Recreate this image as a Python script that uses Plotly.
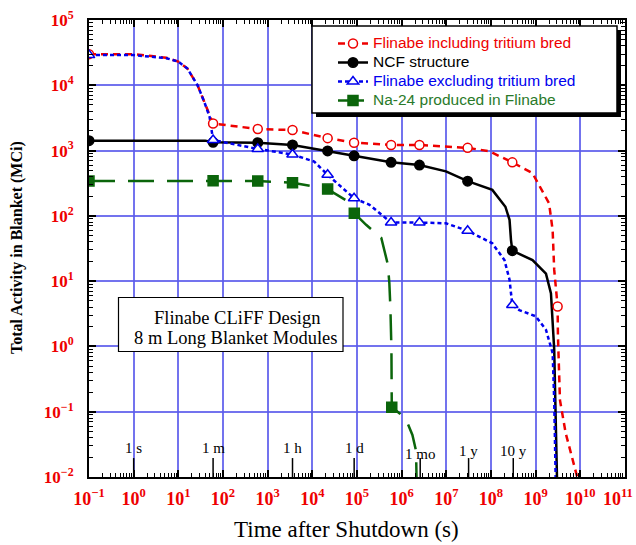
import math
import plotly.graph_objects as go

# ---------------- data ----------------
# Flinabe including tritium bred
red_t = [0.1, 1, 5.4, 10, 16, 27, 38, 50, 60, 600, 3600, 2.2e4, 8.6e4, 5.8e5, 2.5e6,
         3e7, 9e7, 3e8, 8.5e8, 2e9, 2.4e9, 2.6e9, 3.1e9, 3.15e9, 3.3e9, 3.5e9, 4.7e9, 7.3e9, 8.5e9]
red_a = [3e4, 3e4, 2.64e4, 2.3e4, 1.8e4, 1e4, 5600, 3550, 2600, 2140, 2060, 1550, 1320, 1220, 1220,
         1100, 980, 660, 450, 155, 60, 15, 4.1, 1.5, 0.3, 0.15, 0.047, 0.0145, 0.01]
red_mark_t = [0.1, 60, 600, 3600, 2.2e4, 8.6e4, 5.8e5, 2.5e6, 3e7, 3e8, 3.1e9]

# NCF structure
blk_t = [0.1, 40, 60, 600, 3600, 2.2e4, 8.6e4, 5.8e5, 2.5e6, 9.8e6, 3e7, 1.07e8, 2.1e8,
         2.6e8, 2.8e8, 3e8, 8.5e8, 1.7e9, 2.2e9, 2.4e9, 2.6e9, 2.8e9, 3e9]
blk_a = [1420, 1420, 1340, 1320, 1220, 986, 830, 660, 600, 480, 340, 250, 138,
         87, 43, 29.3, 21, 13, 6.5, 2.5, 0.9, 0.085, 0.01]
blk_mark_t = [0.1, 60, 600, 3600, 2.2e4, 8.6e4, 5.8e5, 2.5e6, 3e7, 3e8]

# Flinabe excluding tritium bred
blu_t = [0.1, 1, 5.4, 10, 16, 27, 38, 50, 60, 600, 3600, 1.1e4, 2.2e4, 4e4, 8.6e4, 1.9e5,
         3.7e5, 5.8e5, 2.5e6, 9.8e6, 3e7, 1.07e8, 2e8, 2.6e8, 3e8, 4.3e8, 1e9, 1.7e9, 2.4e9,
         2.6e9, 2.8e9]
blu_a = [2.9e4, 2.9e4, 2.6e4, 2.3e4, 1.8e4, 1e4, 5600, 3300, 1450, 1060, 870, 680, 425, 295, 186, 148,
         103, 79, 79, 77, 59, 38, 21, 10.5, 4.3, 3.6, 2.9, 1.8, 0.79,
         0.15, 0.01]
blu_mark_t = [0.1, 60, 600, 3600, 2.2e4, 8.6e4, 5.8e5, 2.5e6, 3e7, 3e8]

# Na-24 produced in Flinabe
grn_t = [0.1, 60, 600, 3600, 2.2e4, 5.6e4, 8.7e4, 1.6e5, 3.5e5, 4.9e5, 5.3e5, 5.6e5, 5.9e5,
         6e5, 8.9e5, 1.35e6, 1.74e6, 2.1e6, 2.15e6]
grn_a = [342, 345, 342, 322, 257, 174, 110, 73, 46, 18, 9.3, 3.8, 0.9,
         0.117, 0.095, 0.067, 0.044, 0.025, 0.01]
grn_mark_t = [0.1, 60, 600, 3600, 2.2e4, 8.7e4, 6e5]

# time reference marks along the bottom
time_labels = ["1 s", "1 m", "1 h", "1 d", "1 mo", "1 y", "10 y"]
time_values = [1, 60, 3600, 86400, 2.6e6, 3.15e7, 3.15e8]

# axis ticks
x_exps = list(range(-1, 12))
y_exps = list(range(-2, 6))

# ---------------- layout geometry ----------------
W, H = 636, 545
L, R, T, B = 89, 625, 20, 477


def px_x(px):
    return (px - L) / (R - L)


def px_y(py):
    return (B - py) / (B - T)


def ticktext(e):
    s = str(e) if e >= 0 else "\u2212" + str(-e)
    return "10<sup>" + s + "</sup>"


fig = go.Figure()

series = [
    dict(name="Flinabe including tritium bred", t=red_t, a=red_a, mt=red_mark_t,
         color="#ee0000", dash="7px,5px", symbol="circle", fill="white", size=9, txt="#ee0000"),
    dict(name="NCF structure", t=blk_t, a=blk_a, mt=blk_mark_t,
         color="black", dash="solid", symbol="circle", fill="black", size=9.5, txt="black"),
    dict(name="Flinabe excluding tritium bred", t=blu_t, a=blu_a, mt=blu_mark_t,
         color="#0000ee", dash="4px,3px", symbol="triangle-up", fill="white", size=10, txt="#0000ee"),
    dict(name="Na-24 produced in Flinabe", t=grn_t, a=grn_a, mt=grn_mark_t,
         color="#0b650b", dash="26px,13px", symbol="square", fill="#0b650b", size=10, txt="#2a7a2a"),
]

for s in series:
    fig.add_trace(go.Scatter(x=s["t"], y=s["a"], mode="lines",
                             line=dict(color=s["color"], width=2.5, dash=s["dash"]),
                             showlegend=False, hoverinfo="skip"))
for s in series:
    ma = [s["a"][s["t"].index(m)] for m in s["mt"]]
    fig.add_trace(go.Scatter(x=s["mt"], y=ma, mode="markers",
                             marker=dict(symbol=s["symbol"], size=s["size"], color=s["fill"],
                                         line=dict(color=s["color"], width=1.5)),
                             showlegend=False, hoverinfo="skip"))

# time reference ticks
for tv in time_values:
    fig.add_trace(go.Scatter(x=[tv, tv], y=[0.01, 0.0195], mode="lines",
                             line=dict(color="black", width=1.5),
                             showlegend=False, hoverinfo="skip"))

# legend entries
for s in series:
    fig.add_trace(go.Scatter(x=[None], y=[None], mode="lines+markers",
                             name="<span style='color:%s;font-size:15.5px'>%s</span>" % (s["txt"], s["name"]),
                             line=dict(color=s["color"], width=2.5, dash=s["dash"]),
                             marker=dict(symbol=s["symbol"], size=s["size"], color=s["fill"],
                                         line=dict(color=s["color"], width=1.5))))

grid_col = "rgba(90,90,235,0.85)"
tick_font = dict(family="Liberation Serif", color="#ee0000", weight="bold")

# last x label is drawn as an annotation so it stays inside the page
x_ticktext = [ticktext(e) for e in x_exps[:-1]] + [""]

fig.update_xaxes(type="log", range=[-1, 11],
                 tickmode="array", tickvals=[10 ** e for e in x_exps],
                 ticktext=x_ticktext,
                 tickfont=dict(size=18, **tick_font),
                 ticks="inside", ticklen=7, tickwidth=1.5, tickcolor="black",
                 minor=dict(ticks="inside", ticklen=4, tickwidth=1, tickcolor="black",
                            tickmode="linear", dtick="D1", showgrid=False),
                 showline=True, linecolor="black", linewidth=2, mirror="allticks",
                 showgrid=True, gridcolor=grid_col, gridwidth=2,
                 ticklabelstandoff=4, zeroline=False)
fig.update_yaxes(type="log", range=[-2, 5],
                 tickmode="array", tickvals=[10 ** e for e in y_exps],
                 ticktext=[ticktext(e) for e in y_exps],
                 tickfont=dict(size=17, **tick_font), ticklabeloverflow="allow",
                 ticks="inside", ticklen=7, tickwidth=1.5, tickcolor="black",
                 minor=dict(ticks="inside", ticklen=4, tickwidth=1, tickcolor="black",
                            tickmode="linear", dtick="D1", showgrid=False),
                 showline=True, linecolor="black", linewidth=2, mirror="allticks",
                 showgrid=True, gridcolor=grid_col, gridwidth=2,
                 ticklabelstandoff=10, zeroline=False)

shapes = [
    # legend shadow + box
    dict(type="rect", xref="paper", yref="paper", x0=px_x(316), x1=px_x(621), y0=px_y(117), y1=px_y(30),
         fillcolor="black", line=dict(width=0), layer="above"),
    dict(type="rect", xref="paper", yref="paper", x0=px_x(312), x1=px_x(617), y0=px_y(113), y1=px_y(26),
         fillcolor="white", line=dict(color="black", width=1.5), layer="above"),
    # design text box
    dict(type="rect", xref="paper", yref="paper", x0=px_x(118.5), x1=px_x(343), y0=px_y(351.5), y1=px_y(297.5),
         fillcolor="white", line=dict(color="black", width=1.2), layer="above"),
]

center = dict(xanchor="center", yanchor="middle", showarrow=False, xref="paper", yref="paper")
annotations = [
    dict(text="Flinabe CLiFF Design", x=px_x(237), y=px_y(317.5),
         font=dict(family="Liberation Serif", size=18.5, color="black"), **center),
    dict(text="8 m Long Blanket Modules", x=px_x(235), y=px_y(337.5),
         font=dict(family="Liberation Serif", size=18.5, color="black"), **center),
    dict(text="<b>Total Activity in Blanket (MCi)</b>", x=px_x(17), y=px_y(248), textangle=-90,
         font=dict(family="Liberation Serif", size=16, color="black"), **center),
    dict(text="Time after Shutdown (s)", x=px_x(346), y=px_y(529),
         font=dict(family="Liberation Serif", size=23, color="black"), **center),
    dict(text="<b>" + ticktext(x_exps[-1]) + "</b>", x=px_x(635), y=px_y(497.5),
         xref="paper", yref="paper", xanchor="right", yanchor="middle", showarrow=False,
         font=dict(family="Liberation Serif", size=18, color="#ee0000")),
]
label_y = {"1 mo": 454, "1 y": 451, "10 y": 451}
for lab, tv in zip(time_labels, time_values):
    annotations.append(dict(text=lab, x=math.log10(tv), y=px_y(label_y.get(lab, 448)),
                            xref="x", yref="paper", xanchor="center", yanchor="middle",
                            showarrow=False,
                            font=dict(family="Liberation Serif", size=15, color="black")))

fig.update_layout(
    width=W, height=H,
    margin=dict(l=L, r=W - R, t=T, b=H - B, autoexpand=False),
    paper_bgcolor="white", plot_bgcolor="white",
    shapes=shapes, annotations=annotations,
    legend=dict(x=px_x(333), y=px_y(29), xanchor="left", yanchor="top",
                bgcolor="rgba(0,0,0,0)", borderwidth=0,
                font=dict(family="Liberation Sans", size=12, color="black"),
                tracegroupgap=0),
    showlegend=True,
)

fig.write_html("out.html", config={"displayModeBar": False},
               post_script="document.body.style.margin='0';")
